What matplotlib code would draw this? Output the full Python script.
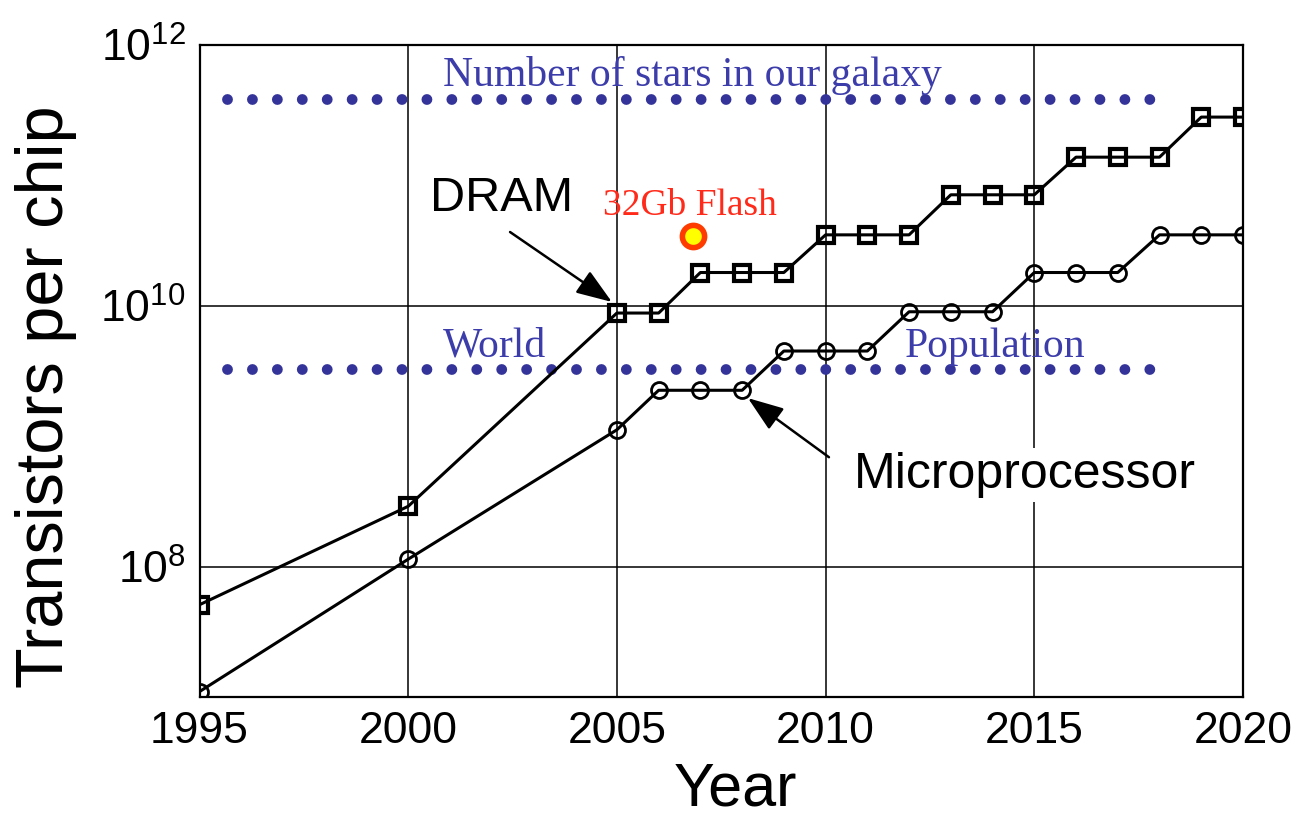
import matplotlib
matplotlib.use("Agg")
import matplotlib.pyplot as plt

# transistor counts per chip (log scale)
years = [1995, 2000, 2005, 2006, 2007, 2008, 2009, 2010, 2011, 2012,
         2013, 2014, 2015, 2016, 2017, 2018, 2019, 2020]
dram = [5.1e7, 2.9e8, 8.8e9, 8.8e9, 1.8e10, 1.8e10, 1.8e10, 3.5e10, 3.5e10, 3.5e10,
        7.1e10, 7.1e10, 7.1e10, 1.38e11, 1.38e11, 1.38e11, 2.8e11, 2.8e11]
micro = [1.1e7, 1.14e8, 1.12e9, 2.25e9, 2.25e9, 2.25e9, 4.5e9, 4.5e9, 4.5e9, 9.0e9,
         9.0e9, 9.0e9, 1.8e10, 1.8e10, 1.8e10, 3.5e10, 3.5e10, 3.5e10]

flash_year = 2006.82
flash_val = 3.4e10

# reference levels
ref_span = [1995.65, 2018.0]
stars = 3.86e11
world_pop = 3.27e9

xticks = [1995, 2000, 2005, 2010, 2015, 2020]
yticks = [1e8, 1e10, 1e12]
ytick_labels = ["$10^{8}$", "$10^{10}$", "$10^{12}$"]

plt.rcParams["font.family"] = "Liberation Sans"
plt.rcParams["mathtext.fontset"] = "custom"
plt.rcParams["mathtext.rm"] = "Liberation Sans"

fig = plt.figure(figsize=(12.97, 8.17), dpi=100)
ax = fig.add_axes([199.5/1297, 1-697/817, 1043.5/1297, 652/817])

ax.set_yscale("log")
ax.set_xlim(1995, 2020)
ax.set_ylim(1e7, 1e12)
ax.set_xticks(xticks)
ax.set_xticklabels([str(t) for t in xticks])
ax.set_yticks(yticks)
ax.set_yticklabels(ytick_labels)
ax.minorticks_off()
ax.tick_params(length=0, labelsize=32, pad=10)
ax.grid(True, color="black", lw=1.1)
ax.set_axisbelow(True)
for s in ax.spines.values():
    s.set_linewidth(1.6)

# dotted reference lines
dot_col = "#33339a"
for v in (stars, world_pop):
    ax.plot(ref_span, [v, v], color=dot_col, lw=7.8,
            ls=(0, (0.001, 2.3)), dash_capstyle="round", zorder=2)

ax.plot(years, dram, color="black", lw=2.2, marker="s", ms=11,
        mfc="none", mec="black", mew=3.0, zorder=4)
ax.plot(years, micro, color="black", lw=2.2, marker="o", ms=11.5,
        mfc="none", mec="black", mew=2.0, zorder=4)

ax.plot([flash_year], [flash_val], marker="o", ms=16, mfc="#ffff00",
        mec="#ff3c00", mew=4, ls="none", zorder=5)

serif = "Liberation Serif"
blue = "#3c3caa"
ax.text(2000.83, 4.85e11, "Number of stars in our galaxy", family=serif,
        fontsize=30, color=blue, va="baseline")
ax.text(2000.83, 4.05e9, "World", family=serif, fontsize=30, color=blue,
        va="baseline")
ax.text(2011.9, 4.05e9, "Population", family=serif, fontsize=30, color=blue,
        va="baseline")
ax.text(2004.67, 4.97e10, "32Gb Flash", family=serif, fontsize=27,
        color="#ff2a1a", va="baseline")

arrow = dict(arrowstyle="-|>,head_length=2.2,head_width=0.8",
             color="black", lw=1.8, shrinkA=0, shrinkB=0)

ax.text(2000.52, 5.33e10, "DRAM", fontsize=35, va="baseline")
ax.annotate("", xy=(2004.88, 1.07e10), xytext=(2002.44, 3.68e10),
            arrowprops=arrow)

ax.text(2010.68, 4.0e8, "Microprocessor", fontsize=36, va="baseline",
        bbox=dict(facecolor="white", edgecolor="none", pad=3), zorder=3)
ax.annotate("", xy=(2008.14, 1.96e9), xytext=(2010.08, 6.9e8),
            arrowprops=arrow)

fig.text(46/1297, 1-397/817, "Transistors per chip", rotation=90,
         fontsize=48, ha="center", va="center")
fig.text(735/1297, 1-806/817, "Year", fontsize=44, ha="center", va="baseline")

fig.savefig("out.png", dpi=100)
